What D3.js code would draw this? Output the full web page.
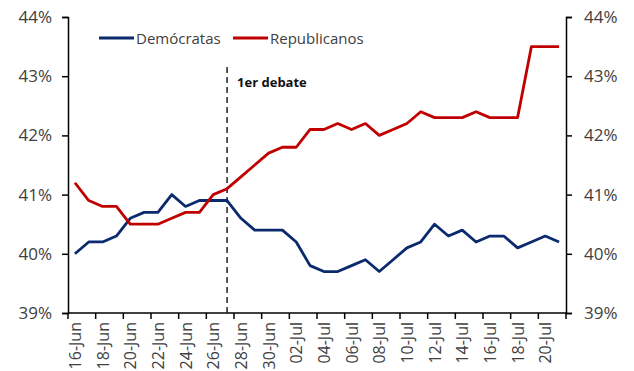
<!DOCTYPE html>
<html>
<head>
<meta charset="utf-8">
<script src="https://cdn.jsdelivr.net/npm/d3@7"></script>
<style>
  body { margin: 0; background: #fff; }
  text { font-family: "Open Sans", sans-serif; }
</style>
</head>
<body>
<div id="chart"></div>
<script>
const dates = [
    "16-Jun", "17-Jun", "18-Jun", "19-Jun", "20-Jun", "21-Jun", "22-Jun", "23-Jun", "24-Jun", "25-Jun",
    "26-Jun", "27-Jun", "28-Jun", "29-Jun", "30-Jun",
    "01-Jul", "02-Jul", "03-Jul", "04-Jul", "05-Jul", "06-Jul", "07-Jul", "08-Jul", "09-Jul", "10-Jul",
    "11-Jul", "12-Jul", "13-Jul", "14-Jul", "15-Jul", "16-Jul", "17-Jul", "18-Jul", "19-Jul", "20-Jul", "21-Jul"
];
const democratas = [
    40.0, 40.2, 40.2, 40.3, 40.6, 40.7, 40.7, 41.0, 40.8, 40.9,
    40.9, 40.9, 40.6, 40.4, 40.4,
    40.4, 40.2, 39.8, 39.7, 39.7, 39.8, 39.9, 39.7, 39.9, 40.1,
    40.2, 40.5, 40.3, 40.4, 40.2, 40.3, 40.3, 40.1, 40.2, 40.3, 40.2
];
const republicanos = [
    41.2, 40.9, 40.8, 40.8, 40.5, 40.5, 40.5, 40.6, 40.7, 40.7,
    41.0, 41.1, 41.3, 41.5, 41.7,
    41.8, 41.8, 42.1, 42.1, 42.2, 42.1, 42.2, 42.0, 42.1, 42.2,
    42.4, 42.3, 42.3, 42.3, 42.4, 42.3, 42.3, 42.3, 43.5, 43.5, 43.5
];
const yTicks = [39, 40, 41, 42, 43, 44];
const debateDate = "27-Jun";

const margin = { top: 17, right: 68, bottom: 58, left: 68 };
const width = 634 - margin.left - margin.right;
const height = 371 - margin.top - margin.bottom;

const svg = d3.select("#chart").append("svg")
    .attr("width", 634)
    .attr("height", 371)
    .append("g")
    .attr("transform", "translate(" + margin.left + "," + margin.top + ")");

// scales
const x = d3.scaleBand()
    .domain(dates)
    .range([0, width])
    .padding(0);

const y = d3.scaleLinear()
    .domain([39, 44])
    .range([height, 0]);

const xc = d => x(d) + x.bandwidth() / 2;

// y axes (left + right)
const yFormat = d => d + "%";
const yLeft = svg.append("g")
    .call(d3.axisLeft(y).tickValues(yTicks).tickFormat(yFormat).tickSize(6).tickPadding(10));
const yRight = svg.append("g")
    .attr("transform", `translate(${width},0)`)
    .call(d3.axisRight(y).tickValues(yTicks).tickFormat(yFormat).tickSize(6).tickPadding(12));

[yLeft, yRight].forEach(g => {
    g.select(".domain").attr("stroke", "#000").attr("stroke-width", 1.5);
    g.selectAll(".tick line").attr("stroke", "#000").attr("stroke-width", 1.5);
    g.selectAll(".tick text")
        .style("font-size", "17px")
        .attr("fill", "#404040");
});

// x axis: ticks on band boundaries every 2 days, labels on every other day
const labelDates = dates.filter((d, i) => i % 2 === 0);
const xAxis = svg.append("g")
    .attr("transform", `translate(0,${height})`);

xAxis.append("line")
    .attr("x1", 0).attr("x2", width)
    .attr("stroke", "#000").attr("stroke-width", 1.5);

xAxis.selectAll(".xtick")
    .data(labelDates.map(d => x(d)).concat([width]))
    .enter().append("line")
    .attr("class", "xtick")
    .attr("x1", d => d).attr("x2", d => d)
    .attr("y1", 0).attr("y2", 6)
    .attr("stroke", "#000").attr("stroke-width", 1.5);

xAxis.selectAll(".xlabel")
    .data(labelDates)
    .enter().append("text")
    .attr("class", "xlabel")
    .attr("transform", d => `translate(${xc(d) + 6},9) rotate(-90)`)
    .attr("text-anchor", "end")
    .style("font-size", "16px")
    .attr("fill", "#404040")
    .text(d => d);

// debate marker
svg.append("line")
    .attr("x1", xc(debateDate)).attr("x2", xc(debateDate))
    .attr("y1", 50).attr("y2", height)
    .attr("stroke", "#222")
    .attr("stroke-width", 1.5)
    .attr("stroke-dasharray", "6,4");

svg.append("text")
    .attr("x", xc(debateDate) + 10)
    .attr("y", 70)
    .style("font-size", "13px")
    .style("font-weight", "bold")
    .attr("fill", "#111")
    .text("1er debate");

// lines
const series = [
    { name: "Demócratas", values: democratas, color: "#0b2a6e" },
    { name: "Republicanos", values: republicanos, color: "#c00000" }
];

const line = d3.line()
    .x((d, i) => xc(dates[i]))
    .y(d => y(d));

series.forEach(s => {
    svg.append("path")
        .datum(s.values)
        .attr("d", line)
        .style("fill", "none")
        .style("stroke", s.color)
        .style("stroke-width", 2.8)
        .style("stroke-linejoin", "round");
});

// legend
const legendX = [31, 165];
const legend = svg.selectAll(".legend")
    .data(series)
    .enter().append("g")
    .attr("class", "legend")
    .attr("transform", (d, i) => `translate(${legendX[i]},21)`);

legend.append("line")
    .attr("x1", 0).attr("x2", 35)
    .attr("stroke", d => d.color)
    .attr("stroke-width", 2.8);

legend.append("text")
    .attr("x", 37)
    .attr("y", 5.5)
    .style("font-size", "15px")
    .attr("fill", "#404040")
    .text(d => d.name);
</script>
</body>
</html>
